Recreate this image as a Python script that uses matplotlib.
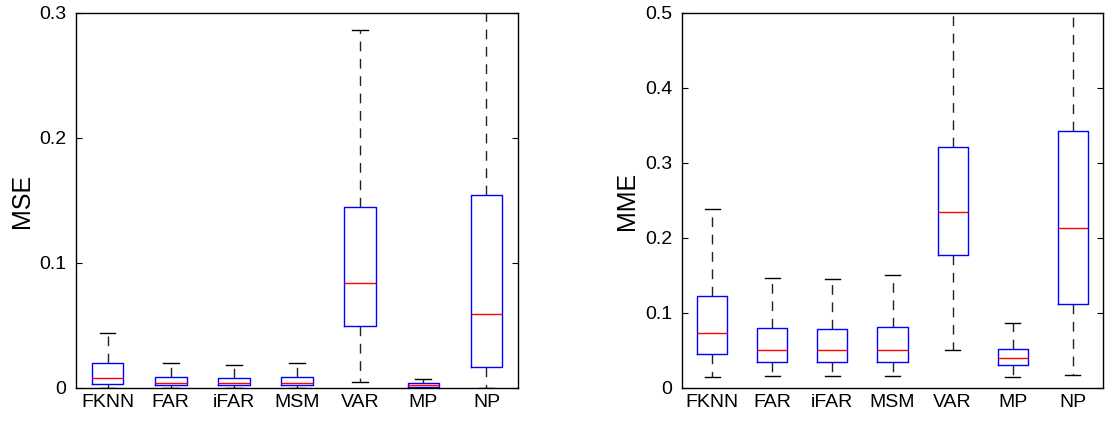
import numpy as np
import matplotlib.pyplot as plt

plt.rcParams['font.family'] = ['Liberation Sans', 'DejaVu Sans']

methods = ['FKNN', 'FAR', 'iFAR', 'MSM', 'VAR', 'MP', 'NP']

# MSE box statistics
mse_whislo = [0.0, 0.0, 0.0, 0.0, 0.005, 0.0, 0.0]
mse_q1 = [0.003, 0.002, 0.002, 0.002, 0.0496, 0.0005, 0.017]
mse_med = [0.008, 0.004, 0.004, 0.004, 0.084, 0.002, 0.059]
mse_q3 = [0.020, 0.009, 0.008, 0.009, 0.145, 0.004, 0.154]
mse_whishi = [0.044, 0.020, 0.018, 0.020, 0.286, 0.007, 0.40]

# MME box statistics
mme_whislo = [0.015, 0.016, 0.016, 0.016, 0.050, 0.014, 0.017]
mme_q1 = [0.045, 0.035, 0.035, 0.035, 0.177, 0.030, 0.112]
mme_med = [0.073, 0.051, 0.050, 0.051, 0.234, 0.040, 0.213]
mme_q3 = [0.123, 0.080, 0.079, 0.081, 0.321, 0.052, 0.343]
mme_whishi = [0.239, 0.147, 0.145, 0.150, 0.60, 0.086, 0.60]


def make_stats(lo, q1, med, q3, hi):
    stats = []
    for i in range(len(methods)):
        stats.append({'whislo': lo[i], 'q1': q1[i], 'med': med[i],
                      'q3': q3[i], 'whishi': hi[i], 'fliers': [],
                      'label': methods[i]})
    return stats


def draw(ax, stats, ymax, yticks, ylabel):
    ax.bxp(stats, positions=np.arange(1, 8), widths=0.5, showfliers=False,
           boxprops=dict(color='blue', linewidth=1),
           medianprops=dict(color='red', linewidth=1),
           whiskerprops=dict(color='#222222', linewidth=1, linestyle=(0, (7, 5.5))),
           capprops=dict(color='black', linewidth=1),
           capwidths=0.25)
    ax.set_xlim(0.5, 7.5)
    ax.set_ylim(0, ymax)
    ax.set_yticks(yticks)
    ax.set_yticklabels(['0'] + ['%g' % t for t in yticks[1:]])
    ax.set_ylabel(ylabel, fontsize=18, labelpad=4)
    ax.tick_params(axis='y', direction='in', right=True, labelsize=14, length=4, pad=7)
    ax.tick_params(axis='x', length=0, labelsize=14, pad=4)
    for s in ax.spines.values():
        s.set_linewidth(1)


fig = plt.figure(figsize=(11.05, 4.21), dpi=100)
ax1 = fig.add_axes([0.0688, 0.0784, 0.400, 0.891])
ax2 = fig.add_axes([0.6172, 0.0784, 0.381, 0.891])

draw(ax1, make_stats(mse_whislo, mse_q1, mse_med, mse_q3, mse_whishi),
     0.3, [0, 0.1, 0.2, 0.3], 'MSE')
draw(ax2, make_stats(mme_whislo, mme_q1, mme_med, mme_q3, mme_whishi),
     0.5, [0, 0.1, 0.2, 0.3, 0.4, 0.5], 'MME')

fig.savefig('out.png', dpi=100)
